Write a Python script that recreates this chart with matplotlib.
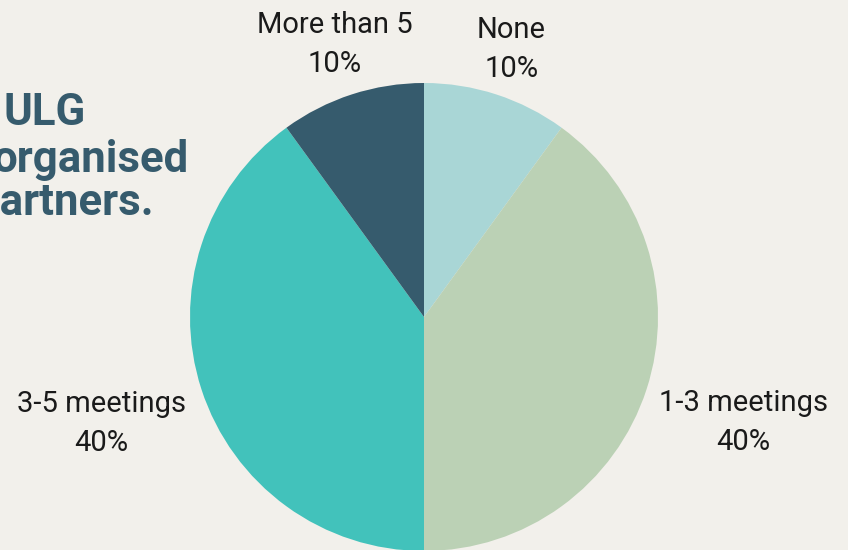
import numpy as np
import matplotlib
matplotlib.use("Agg")
import matplotlib.pyplot as plt

categories = ["None", "1-3 meetings", "3-5 meetings", "More than 5"]
values = [10, 40, 40, 10]
colors = ["#a9d6d6", "#bbd1b5", "#42c2bb", "#365b6d"]
label_dist = [1.21, 1.435, 1.45, 1.232]

bg = "#f2f0eb"
W, H = 848, 550
fig = plt.figure(figsize=(W / 100, H / 100), dpi=100, facecolor=bg)

cx, cy, r = 424, 317, 234
ax = fig.add_axes([(cx - r) / W, (H - cy - r) / H, 2 * r / W, 2 * r / H])
ax.set_facecolor(bg)
wedges, _ = ax.pie(values, colors=colors, startangle=90, counterclock=False,
                   radius=1.0, wedgeprops=dict(linewidth=0))
ax.set_xlim(-1, 1)
ax.set_ylim(-1, 1)
ax.axis("off")

total = sum(values)
for w, cat, v, d in zip(wedges, categories, values, label_dist):
    ang = np.deg2rad((w.theta1 + w.theta2) / 2)
    x, y = d * np.cos(ang), d * np.sin(ang) - 0.008
    ax.text(x, y, f"{cat}\n{round(100 * v / total)}%", ha="center", va="center",
            multialignment="center", fontsize=21, family="Roboto",
            fontweight="normal", color="#1a1a1a", linespacing=1.5, clip_on=False)

title_color = "#365b6d"
fs_t = 31.5
fig.text(3 / W, 1 - 125 / H, "ULG", fontsize=fs_t, fontweight="bold",
         family="Roboto", color=title_color, ha="left", va="baseline")
fig.text(-8 / W, 1 - 172 / H, "organised", fontsize=fs_t, fontweight="bold",
         family="Roboto", color=title_color, ha="left", va="baseline")
fig.text(-24 / W, 1 - 215 / H, "partners.", fontsize=fs_t, fontweight="bold",
         family="Roboto", color=title_color, ha="left", va="baseline")

fig.savefig("out.png", dpi=100, facecolor=bg)
